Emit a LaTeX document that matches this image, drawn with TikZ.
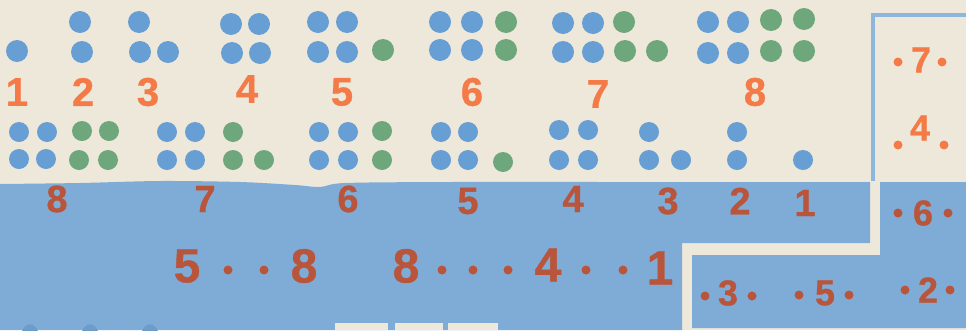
\documentclass[tikz,border=0pt]{standalone}
\usepackage{fontspec}
\newfontfamily\numfont{Liberation Sans}[BoldFeatures={FakeBold=0.8}]
\definecolor{cream}{HTML}{EEE8DA}
\definecolor{bluereg}{HTML}{7EACD7}
\definecolor{bluebump}{HTML}{6E9CC8}
\definecolor{dotblue}{HTML}{679ED4}
\definecolor{dotgreen}{HTML}{6EA77C}
\definecolor{numorange}{HTML}{F47B47}
\definecolor{numred}{HTML}{B9553A}
\definecolor{boxblue}{HTML}{8CB6DC}
\tikzset{
  bd/.style={circle,fill=dotblue,inner sep=0pt,minimum size=22pt},
  gd/.style={circle,fill=dotgreen,inner sep=0pt,minimum size=22pt},
  bds/.style={circle,fill=dotblue,inner sep=0pt,minimum size=20pt},
  gds/.style={circle,fill=dotgreen,inner sep=0pt,minimum size=20pt},
  rdot/.style={circle,fill=numred,inner sep=0pt,minimum size=9pt},
  odot/.style={circle,fill=numorange,inner sep=0pt,minimum size=9pt},
  topnum/.style={text=numorange,inner sep=0pt,font=\numfont\bfseries\fontsize{40}{40}\selectfont},
  midnum/.style={text=numred,inner sep=0pt,font=\numfont\bfseries\fontsize{38}{38}\selectfont},
  botnum/.style={text=numred,inner sep=0pt,font=\numfont\bfseries\fontsize{48}{48}\selectfont},
  pnlo/.style={text=numorange,inner sep=0pt,font=\numfont\bfseries\fontsize{36}{36}\selectfont},
  pnlr/.style={text=numred,inner sep=0pt,font=\numfont\bfseries\fontsize{36}{36}\selectfont},
}
\begin{document}
\begin{tikzpicture}[x=1pt,y=-1pt]
\useasboundingbox (0,0) rectangle (966,330);
\fill[cream] (0,0) rectangle (966,330);
% blue regions
\fill[bluereg] plot[smooth] coordinates {(0,184) (80,183) (160,181) (240,182) (295,185) (320,187) (345,183) (450,182) (620,182) (870,182)}
  -- (870,243) -- (682,243) -- (682,330) -- (0,330) -- cycle;
\fill[bluereg] (880,182) -- (966,182) -- (966,328) -- (692,328) -- (692,255) -- (880,255) -- cycle;
% bottom edge fragments
\fill[cream] (335,323) rectangle (388,330);
\fill[cream] (395,323) rectangle (443,330);
\fill[cream] (448,323) rectangle (498,330);
\foreach \bx in {30,90,150} \fill[bluebump] (\bx-8,331) .. controls (\bx-4,322) and (\bx+4,322) .. (\bx+8,331) -- cycle;
% panel outline
\draw[boxblue,line width=3.5pt] (873,181) -- (873,15) -- (967,15);

% top row of cells
\node[bd] (a1-1) at (17,51) {};
\foreach \x/\y [count=\i] in {80/22,82/52} \node[bd] (a2-\i) at (\x,\y) {};
\foreach \x/\y [count=\i] in {139/22,140/52,168/52} \node[bd] (a3-\i) at (\x,\y) {};
\foreach \x/\y [count=\i] in {231/24,259/24,232/53,260/53} \node[bd] (a4-\i) at (\x,\y) {};
\foreach \x/\y [count=\i] in {318/22,347/22,318/52,347/52} \node[bd] (a5-\i) at (\x,\y) {};
\node[gd] (a5-g) at (383,50) {};
\foreach \x/\y [count=\i] in {440/22,472/22,440/50,472/50} \node[bd] (a6-\i) at (\x,\y) {};
\foreach \x/\y [count=\i] in {506/22,506/50} \node[gd] (a6-g\i) at (\x,\y) {};
\foreach \x/\y [count=\i] in {563/23,593/23,563/52,593/52} \node[bd] (a7-\i) at (\x,\y) {};
\foreach \x/\y [count=\i] in {624/22,625/51,657/51} \node[gd] (a7-g\i) at (\x,\y) {};
\foreach \x/\y [count=\i] in {708/22,738/22,708/53,738/53} \node[bd] (a8-\i) at (\x,\y) {};
\foreach \x/\y [count=\i] in {771/20,804/19,771/51,804/51} \node[gd] (a8-g\i) at (\x,\y) {};

% top row numbers
\node[topnum] (n1) at (17,92) {1};
\node[topnum] (n2) at (83,92) {2};
\node[topnum] (n3) at (148,92) {3};
\node[topnum] (n4) at (247,89) {4};
\node[topnum] (n5) at (342,92) {5};
\node[topnum] (n6) at (472,92) {6};
\node[topnum] (n7) at (598,94) {7};
\node[topnum] (n8) at (755,92) {8};

% second row of cells
\foreach \x/\y [count=\i] in {19/132,47/132,19/159,46/159} \node[bds] (b8-\i) at (\x,\y) {};
\foreach \x/\y [count=\i] in {82/131,109/131,79/160,108/160} \node[gds] (b8-g\i) at (\x,\y) {};
\foreach \x/\y [count=\i] in {167/132,195/132,167/160,195/160} \node[bds] (b7-\i) at (\x,\y) {};
\foreach \x/\y [count=\i] in {233/132,233/160,264/160} \node[gds] (b7-g\i) at (\x,\y) {};
\foreach \x/\y [count=\i] in {319/132,348/132,319/160,348/160} \node[bds] (b6-\i) at (\x,\y) {};
\foreach \x/\y [count=\i] in {382/131,382/160} \node[gds] (b6-g\i) at (\x,\y) {};
\foreach \x/\y [count=\i] in {441/132,468/132,441/160,468/160} \node[bds] (b5-\i) at (\x,\y) {};
\node[gds] (b5-g) at (503,162) {};
\foreach \x/\y [count=\i] in {559/130,588/130,559/160,588/160} \node[bds] (b4-\i) at (\x,\y) {};
\foreach \x/\y [count=\i] in {649/132,649/160,681/160} \node[bds] (b3-\i) at (\x,\y) {};
\foreach \x/\y [count=\i] in {737/132,737/160} \node[bds] (b2-\i) at (\x,\y) {};
\node[bds] (b1-1) at (803,160) {};

% second row numbers
\node[midnum] (m8) at (57,199) {8};
\node[midnum] (m7) at (205,199) {7};
\node[midnum] (m6) at (348,199) {6};
\node[midnum] (m5) at (468,201) {5};
\node[midnum] (m4) at (573,199) {4};
\node[midnum] (m3) at (668,201) {3};
\node[midnum] (m2) at (740,201) {2};
\node[midnum] (m1) at (805,203) {1};

% bottom row
\node[botnum] (c5) at (187,266) {5};
\node[rdot] (cd1) at (228,270) {};
\node[rdot] (cd2) at (264,270) {};
\node[botnum] (c8a) at (304,266) {8};
\node[botnum] (c8b) at (406,266) {8};
\node[rdot] (cd3) at (442,270) {};
\node[rdot] (cd4) at (473,270) {};
\node[rdot] (cd5) at (508,270) {};
\node[botnum] (c4) at (548,265) {4};
\node[rdot] (cd6) at (586,270) {};
\node[rdot] (cd7) at (623,270) {};
\node[botnum] (c1) at (660,268) {1};

% bottom right
\node[rdot] (d3l) at (705,296) {};
\node[pnlr] (d3) at (728,293) {3};
\node[rdot] (d3r) at (752,296) {};
\node[rdot] (d5l) at (799,295) {};
\node[pnlr] (d5) at (825,293) {5};
\node[rdot] (d5r) at (849,295) {};

% right panel
\node[odot] (p7l) at (898,62) {};
\node[pnlo] (p7) at (921,60) {7};
\node[odot] (p7r) at (942,62) {};
\node[odot] (p4l) at (898,145) {};
\node[pnlo] (p4) at (920,128) {4};
\node[odot] (p4r) at (944,145) {};
\node[rdot] (p6l) at (898,213) {};
\node[pnlr] (p6) at (923,213) {6};
\node[rdot] (p6r) at (948,213) {};
\node[rdot] (p2l) at (905,290) {};
\node[pnlr] (p2) at (928,290) {2};
\node[rdot] (p2r) at (950,290) {};
\end{tikzpicture}
\end{document}
